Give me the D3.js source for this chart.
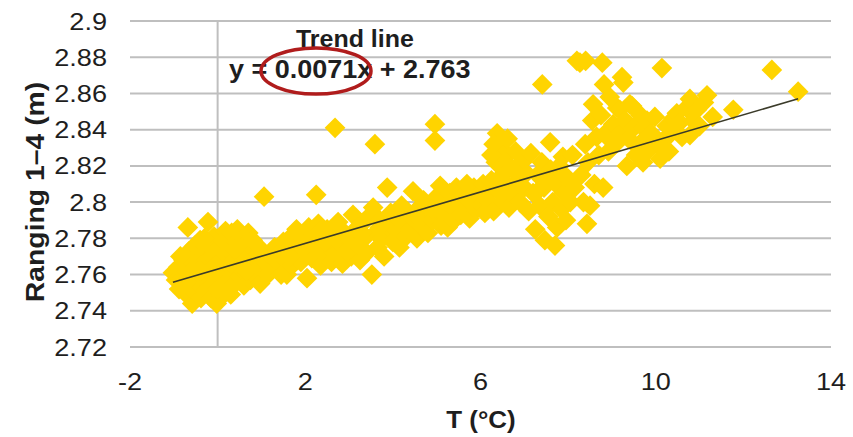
<!DOCTYPE html>
<html>
<head>
<meta charset="utf-8">
<script src="https://cdn.jsdelivr.net/npm/d3@7"></script>
<style>
  html, body { margin: 0; padding: 0; background: #fff; }
  svg { display: block; }
  text { font-family: "Liberation Sans", Arial, sans-serif; fill: #1e1e1e; }
</style>
</head>
<body>
<svg id="chart" width="853" height="437"></svg>
<script>
// ---------- data ----------
const xTicks = [-2, 2, 6, 10, 14];
const xTickLabels = ["-2", "2", "6", "10", "14"];
const yTicks = [2.72, 2.74, 2.76, 2.78, 2.8, 2.82, 2.84, 2.86, 2.88, 2.9];
const yTickLabels = ["2.72", "2.74", "2.76", "2.78", "2.8", "2.82", "2.84", "2.86", "2.88", "2.9"];
const xTitle = "T (°C)";
const yTitle = "Ranging 1–4 (m)";
const trendTitle = "Trend line";
const trendEquation = "y = 0.0071x + 2.763";
const trendCoef = [0.0071, 2.763];   // slope, intercept
const trendRange = [-1.02, 13.25];

const temperature = [
 -1.02,-0.95,-0.9,-0.88,-0.8,-0.78,-0.75,-0.7,-0.68,-0.65,-0.62,-0.58,-0.55,-0.52,-0.5,-0.48,-0.45,-0.42,-0.4,-0.38,
 -0.35,-0.32,-0.3,-0.28,-0.25,-0.22,-0.2,-0.18,-0.15,-0.12,-0.1,-0.08,-0.05,-0.02,0.0,0.02,0.05,0.08,0.1,0.12,
 0.15,0.18,0.2,0.22,0.25,0.28,0.3,0.32,0.35,0.38,0.4,0.42,0.45,0.48,0.5,0.52,0.55,0.58,0.6,0.62,
 0.65,0.68,0.7,0.72,0.75,0.78,0.8,0.85,0.88,0.9,0.95,0.97,1.04,1.06,1.1,1.15,
 -0.85,-0.6,-0.3,-0.1,0.1,0.3,0.55,0.75,-0.7,-0.4,0.0,0.4,0.65,
 1.2,1.25,1.3,1.35,1.4,1.45,1.5,1.55,1.58,1.62,1.68,1.7,1.75,1.8,1.85,1.9,1.95,2.0,2.04,2.08,
 2.1,2.15,2.2,2.25,2.28,2.3,2.35,2.4,2.45,2.5,2.55,2.6,2.65,2.68,2.7,2.75,2.8,2.85,2.9,2.95,
 1.9,2.2,2.45,2.7,1.65,2.35,
 3.0,3.05,3.09,3.15,3.2,3.25,3.3,3.35,3.4,3.45,3.52,3.55,3.59,3.6,3.65,3.7,3.75,3.8,3.87,3.9,
 3.95,4.0,4.05,4.1,4.15,4.2,4.25,4.3,4.35,4.4,4.46,4.5,4.55,4.6,4.65,4.7,4.75,4.8,4.85,4.9,
 4.96,4.96,5.0,5.05,5.08,5.1,5.15,5.2,5.25,5.3,5.35,5.4,5.45,5.5,5.55,5.6,5.65,5.69,5.75,5.8,
 5.85,5.9,5.95,6.0,6.06,6.1,6.15,
 3.3,3.7,4.1,4.5,4.9,5.3,5.7,
 6.2,6.25,6.3,6.35,6.38,6.4,6.45,6.5,6.52,6.55,6.6,6.62,6.65,6.7,6.75,6.8,6.85,6.9,6.95,7.0,
 7.05,7.1,7.15,7.2,7.25,7.3,7.35,7.4,7.41,7.45,7.47,7.5,7.55,7.59,7.6,7.65,7.7,7.72,7.75,7.8,
 7.85,7.88,7.9,7.95,8.0,8.05,8.1,8.15,8.2,6.25,6.3,6.75,7.3,7.9,
 8.27,8.3,8.35,8.39,8.4,8.43,8.45,8.5,8.55,8.57,8.6,8.65,8.7,8.75,8.78,8.8,8.82,8.85,8.89,8.92,8.95,
 9.03,9.08,9.12,9.18,9.2,9.23,9.26,9.3,9.34,9.38,9.41,9.46,9.5,9.55,9.6,9.65,9.71,9.71,9.75,9.8,
 9.85,9.9,9.98,10.05,10.1,10.14,10.17,10.25,10.3,10.35,10.4,10.48,10.55,10.6,10.7,10.78,10.78,10.85,10.94,11.0,
 11.1,11.17,11.3,11.77,12.65,13.25
];
const ranging = [
 2.761,2.757,2.764,2.752,2.758,2.768,2.750,2.762,2.786,2.773,2.755,2.744,2.766,2.776,2.750,2.760,2.770,2.754,2.779,2.747,
 2.764,2.772,2.757,2.751,2.768,2.789,2.776,2.761,2.747,2.770,2.755,2.781,2.765,2.744,2.774,2.758,2.750,2.768,2.779,2.762,
 2.753,2.784,2.771,2.757,2.765,2.776,2.749,2.783,2.760,2.770,2.755,2.778,2.785,2.766,2.759,2.773,2.781,2.762,2.754,2.769,
 2.777,2.760,2.783,2.766,2.757,2.772,2.779,2.763,2.770,2.758,2.775,2.755,2.772,2.803,2.766,2.760,
 2.770,2.762,2.780,2.760,2.748,2.766,2.769,2.764,2.756,2.762,2.752,2.774,2.762,
 2.770,2.763,2.775,2.767,2.772,2.760,2.778,2.768,2.760,2.774,2.781,2.765,2.771,2.785,2.776,2.767,2.780,2.772,2.758,2.786,
 2.777,2.769,2.782,2.804,2.774,2.788,2.765,2.779,2.771,2.785,2.775,2.767,2.781,2.841,2.772,2.789,2.777,2.766,2.783,2.773,
 2.773,2.776,2.778,2.780,2.770,2.784,
 2.780,2.770,2.793,2.785,2.776,2.768,2.788,2.780,2.772,2.792,2.760,2.797,2.832,2.783,2.775,2.790,2.780,2.770,2.808,2.786,
 2.794,2.778,2.790,2.784,2.775,2.798,2.788,2.781,2.794,2.785,2.806,2.790,2.780,2.797,2.787,2.801,2.792,2.783,2.798,2.790,
 2.843,2.834,2.803,2.795,2.809,2.787,2.800,2.792,2.786,2.805,2.797,2.790,2.808,2.800,2.793,2.804,2.797,2.810,2.791,2.802,
 2.808,2.796,2.804,2.799,2.810,2.794,2.805,
 2.783,2.786,2.791,2.793,2.796,2.799,2.802,
 2.800,2.812,2.795,2.822,2.838,2.806,2.830,2.815,2.800,2.825,2.810,2.835,2.797,2.819,2.805,2.828,2.812,2.800,2.822,2.808,
 2.816,2.795,2.827,2.805,2.785,2.815,2.798,2.822,2.865,2.808,2.779,2.812,2.792,2.833,2.818,2.800,2.776,2.810,2.786,2.820,
 2.796,2.825,2.805,2.790,2.813,2.800,2.826,2.808,2.878,2.826,2.832,2.818,2.806,2.815,
 2.877,2.815,2.800,2.832,2.878,2.788,2.822,2.798,2.845,2.854,2.810,2.836,2.826,2.848,2.877,2.808,2.865,2.838,2.836,2.828,2.858,
 2.843,2.832,2.852,2.851,2.838,2.869,2.866,2.845,2.820,2.835,2.854,2.853,2.841,2.826,2.830,2.848,2.841,2.822,2.835,2.845,
 2.829,2.838,2.847,2.832,2.824,2.874,2.834,2.842,2.828,2.838,2.846,2.849,2.844,2.836,2.852,2.837,2.857,2.845,2.851,2.842,
 2.855,2.859,2.847,2.851,2.873,2.861
];

// ---------- layout ----------
const svg = d3.select("#chart");
const plot = { left: 130, right: 831, top: 21, bottom: 347 };
const x = d3.scaleLinear().domain([-2, 14]).range([plot.left, plot.right]);
const y = d3.scaleLinear().domain([2.72, 2.9]).range([plot.bottom, plot.top]);

function label(px, py, str, o) {
  const t = svg.append("text")
    .attr("transform", `translate(${px},${py}) rotate(${o.rot || 0}) scale(${o.sx || 1},1)`)
    .attr("text-anchor", o.anchor || "start")
    .style("font-size", o.size + "px")
    .style("font-weight", o.bold ? "bold" : "normal")
    .text(str);
  return t;
}

// gridlines
svg.append("g").selectAll("line").data(yTicks).join("line")
  .attr("x1", plot.left).attr("x2", plot.right)
  .attr("y1", d => y(d)).attr("y2", d => y(d))
  .attr("stroke", "#bfbfbf").attr("stroke-width", 2);
// vertical axis line at x = 0
svg.append("line")
  .attr("x1", x(0)).attr("x2", x(0))
  .attr("y1", y(2.9)).attr("y2", y(2.72))
  .attr("stroke", "#bfbfbf").attr("stroke-width", 2);

// points (diamonds)
const pts = temperature.map((t, i) => [t, ranging[i]]);
const diamond = d3.symbol().type(d3.symbolSquare).size(215);
svg.append("g").selectAll("path").data(pts).join("path")
  .attr("d", diamond)
  .attr("transform", d => `translate(${x(d[0])},${y(d[1])}) rotate(45)`)
  .attr("fill", "#ffd400");

// trend line
svg.append("line")
  .attr("x1", x(trendRange[0])).attr("y1", y(trendCoef[0] * trendRange[0] + trendCoef[1]))
  .attr("x2", x(trendRange[1])).attr("y2", y(trendCoef[0] * trendRange[1] + trendCoef[1]))
  .attr("stroke", "#3b3b2a").attr("stroke-width", 1.6);

// tick labels
yTicks.forEach((v, i) => label(107, y(v) + 8.5, yTickLabels[i], { size: 24, sx: 1.13, anchor: "end" }));
xTicks.forEach((v, i) => label(x(v), 390, xTickLabels[i], { size: 24, sx: 1.13, anchor: "middle" }));

// axis titles
label(481, 428, xTitle, { size: 24, sx: 1.08, anchor: "middle", bold: true });
label(44, 192, yTitle, { size: 26, sx: 1.09, anchor: "middle", bold: true, rot: -90 });

// trend annotation
label(296, 47, trendTitle, { size: 24, sx: 1.04, bold: true });
label(229, 78, trendEquation, { size: 25, sx: 1.08, bold: true });
svg.append("ellipse")
  .attr("cx", 316).attr("cy", 71).attr("rx", 55).attr("ry", 23)
  .attr("fill", "none").attr("stroke", "#b01c1c").attr("stroke-width", 3.5);
</script>
</body>
</html>
